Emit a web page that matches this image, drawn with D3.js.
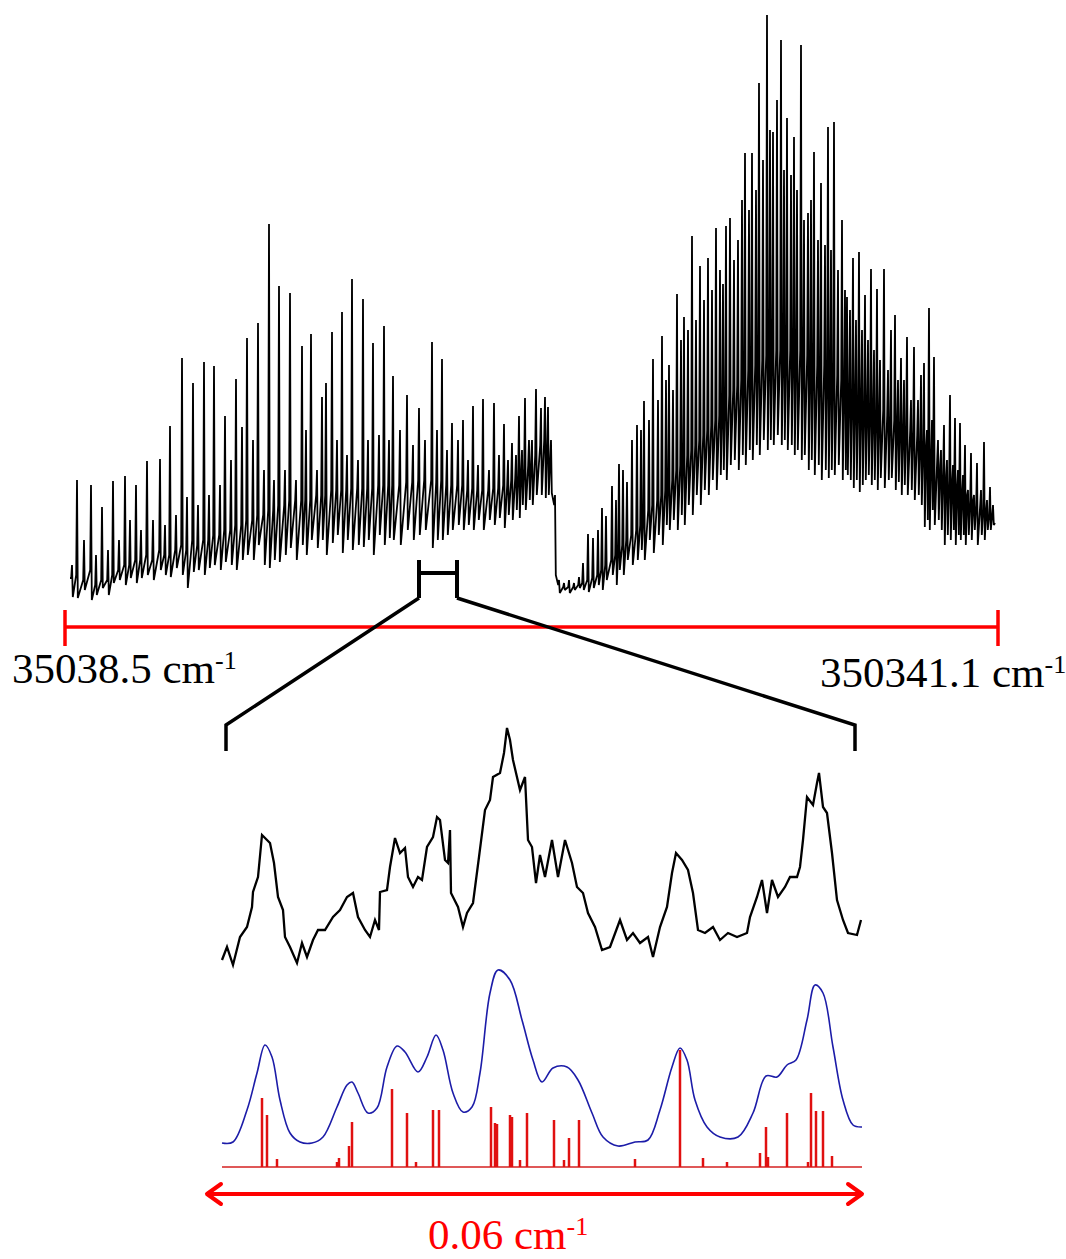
<!DOCTYPE html>
<html>
<head>
<meta charset="utf-8">
<script src="https://cdn.jsdelivr.net/npm/d3@7"></script>
<style>
  body { margin: 0; background: #fff; }
  text { font-family: "Liberation Serif", "Times New Roman", serif; }
</style>
</head>
<body>
<div id="chart"></div>
<script>
// ---- survey spectrum (top), channel along the scan and signal counts ----
// left band: position, peak top, dip after the peak, level before the peak
var leftPos = [7,12,19,26,31,37,43,48,54,60, 65,71,76,82,88,95,100,105,111,117,
  122,128,133,139,144,149,155,160,166,171, 177,182,188,193,199,204,209,214,220,225,
  231,237,241,246,252,257,261,267,272,277, 282,287,293,298,303,308,314,319,324,328,
  335,342,348,354,360,367,372,377,382,387, 393,398,403,408,413,418,424,429,434,439,
  443,447,451,454,457,460,464,467,471,476, 480,483,486,490,494,499,504,509,514];
var leftTop = [40,125,65,120,50,98,55,124,65,129, 85,120,75,144,85,146,80,179,90,247,
  108,222,100,243,110,239,120,189,145,226, 178,267,165,282,135,381,125,319,135,312,
  125,259,175,271,135,208,222,273,165,293, 150,326,145,306,165,262,170,279,165,229,
  175,210,160,197,165,263,175,246,155,182, 165,185,145,199,140,206,135,202,150,181,
  145,162,150,189,155,207,165,165,216,197, 208,198,165,110,25,22,25,22,28];
var leftLow = [8,7,15,5,10,17,10,22,25,20, 27,22,27,30,25,35,30,28,37,30,
  17,33,35,30,37,40,35,43,40,35, 45,50,45,60,40,37,45,43,50,57,
  45,60,50,65,57,65,50,62,70,52, 65,55,60,58,65,50,70,60,67,65,
  60,75,65,70,75,57,65,65,70,75, 80,75,80,75,85,75,85,80,87,77,
  90,85,95,87,100,95,105,100,110,110, 107,110,112,30,12,15,12,15,17];
var leftMid = [27,30,25,35,20,25,25,30,35,40, 40,45,45,50,45,55,50,50,55,60,
  55,65,60,65,65,70,70,75,75,80, 80,85,85,90,90,95,95,100,100,105,
  105,105,105,105,110,110,110,115,115,115, 115,117,117,117,117,117,120,120,120,120,
  120,123,123,125,125,125,123,125,120,120, 120,120,115,117,115,115,115,117,117,120,
  120,125,127,130,135,137,140,143,150,160, 165,160,145,100,20,18,18,18,20];

// right band
var rightPos = [518,523,528,533,537,541,547,551,554,558, 562,567,572,576,579,584,588,593,597,601,
  604,608,612,616,619,623,627,631,635,639, 643,647,651,655,658,661,665,669,673,677,
  680,684,687,691,694,698,702,705,708,712, 716,719,722,726,729,732,736,739,743,746,
  749,753,756,760,763,766,769,773,777,780, 782,785,788,791,794,797,800,803,806,809,
  812,815,819,823,826,830,833,836,839,842, 846,849,853,856,859,862,864,867,869,873,
  876,879,882,885,888,890,893,895,898,900, 903,906,909,912,916,919,922,925,928];
var rightTop = [42,71,67,75,97,89,119,105,141,135, 123,165,180,175,204,185,246,205,269,225,
  240,215,311,265,288,275,369,285,339,305, 347,315,377,335,321,379,387,345,365,405,
  452,395,452,415,522,445,590,475,473,505, 565,435,487,430,468,415,560,385,392,405,
  453,365,422,360,478,355,483,335,385,315, 308,295,347,285,353,275,310,265,336,255,
  316,245,336,235,275,290,225,247,225,268, 205,258,205,230,242,175,297,185,248,165,
  155,180,145,210,140,187,135,182,130,160, 115,152,110,142,115,163,105,118,100];
var rightLow = [15,13,17,20,15,25,30,20,35,30, 45,40,45,55,45,65,52,70,60,80,
  75,85,75,90,80,100,90,110,100,115, 110,125,115,130,135,125,140,145,135,150,
  140,155,145,160,150,165,155,165,160,170, 160,165,155,160,150,155,145,150,135,145,
  130,140,125,135,127,135,130,140,125,135, 130,125,117,125,113,120,125,130,120,125,
  115,127,117,125,127,115,123,110,120,110, 115,105,110,100,78,85,75,95,80,85,
  75,60,70,65,75,60,70,65,70,60, 70,65,75,60,70,65,75,75,80];
var rightMid = [22,25,27,30,35,40,45,50,55,60, 65,70,75,80,85,95,100,105,110,115,
  120,125,135,140,145,150,155,160,165,170, 175,180,185,190,195,205,210,215,220,225,
  230,235,240,240,245,245,250,250,255,255, 255,255,255,255,255,255,255,250,250,245,
  245,240,240,240,235,235,230,230,225,225, 220,220,215,215,210,210,205,205,200,200,
  195,195,195,190,190,185,185,185,180,180, 175,175,170,165,160,160,155,150,150,145,
  140,135,130,125,125,120,120,115,115,110, 110,105,105,100,100,95,95,90,90];
var scanStart = [5, 27];
var scanEnd = [930, 82];

// zoomed window (channels) and range labels
var zoomWindow = [354, 392];
var rangeLabels = ["35038.5 cm", "350341.1 cm"];
var spanLabel = "0.06 cm";

// ---- zoomed region (bottom), sample index along 0.06 cm-1 ----
var expIdx = [0,5,11,18,25,30,31,36,40,45,48,52,56,61,63,68,75,80,85,91,96,103,111,118,125,131,
  136,143,148,153,157,158,165,168,173,178,183,186,191,196,200,205,211,215,218,223,226,228,229,
  236,241,245,251,257,263,268,271,278,282,285,288,291,298,303,306,310,314,318,323,330,336,343,
  350,355,361,366,373,380,388,398,405,411,418,426,431,438,445,450,454,460,466,471,476,483,491,
  498,506,515,525,528,535,540,545,550,556,563,568,575,578,581,585,591,595,597,601,605,610,615,
  621,626,635,639];
var expVal = [8,21,3,31,41,61,76,91,133,128,125,105,71,58,31,21,5,25,11,28,38,38,51,58,71,75,
  51,38,31,48,38,76,78,101,130,115,120,91,81,91,88,121,131,151,148,108,105,138,75,
  61,41,55,65,111,158,168,191,195,215,240,228,208,178,191,128,121,85,113,91,128,91,128,
  105,81,75,55,41,18,21,48,28,35,25,31,11,41,61,95,115,108,98,75,38,35,41,
  28,35,31,35,51,71,88,55,88,71,81,91,91,101,128,171,163,185,195,161,155,115,68,
  48,35,33,48];

var simIdx = [0,11,25,35,43,50,58,68,78,90,101,115,125,130,136,146,155,165,175,183,196,205,214,
  221,231,241,250,258,268,276,288,300,311,320,331,345,356,370,381,396,413,426,438,450,458,465,
  473,485,498,516,531,544,555,565,574,585,593,601,611,621,631,640];
var simVal = [3,4,36,73,101,89,46,13,4,3,9,39,61,64,53,33,38,79,100,94,74,89,111,
  96,53,34,39,73,153,176,166,126,86,64,78,79,66,33,9,0,4,6,36,79,98,86,
  46,19,9,9,33,70,69,81,86,126,161,153,99,46,21,19];

var stickIdx = [40,45,55,115,117,127,130,170,185,194,211,217,269,273,275,288,290,298,305,
  332,342,347,357,413,458,481,505,538,544,546,565,586,589,594,601,610];
var stickVal = [69,52,8,5,9,21,45,78,54,5,57,57,60,44,43,52,50,7,54,
  47,7,29,47,8,117,9,5,14,40,10,54,5,74,56,56,11];

// ---------------------------------------------------------------
var W = 1066, H = 1259;
var svg = d3.select("#chart").append("svg")
    .attr("width", W).attr("height", H);

var x = d3.scaleLinear().domain([0, 933]).range([65, 998]);
var y = d3.scaleLinear().domain([0, 590]).range([605, 15]);

var lowX = d3.scaleLinear().domain([0, 640]).range([222, 862]);
var expY = d3.scaleLinear().domain([0, 240]).range([968, 728]);
var simY = d3.scaleLinear().domain([0, 180]).range([1146, 966]);
var stickY = d3.scaleLinear().domain([0, 120]).range([1167, 1047]);

// build the survey trace: level -> peak -> dip for every line
var scan = [scanStart];
function addLines(pos, top, low, mid) {
  var n = Math.min(pos.length, top.length, low.length, mid.length);
  for (var i = 0; i < n; i++) {
    scan.push([pos[i] - 0.8, mid[i]], [pos[i], top[i]], [pos[i] + 0.8, low[i]]);
  }
}
addLines(leftPos, leftTop, leftLow, leftMid);
addLines(rightPos, rightTop, rightLow, rightMid);
scan.push(scanEnd);

var line = d3.line()
    .x(function(d) { return x(d[0]); })
    .y(function(d) { return y(d[1]); });

svg.append("path")
    .datum(scan)
    .attr("d", line)
    .attr("fill", "none")
    .attr("stroke", "#000")
    .attr("stroke-width", 1.8)
    .attr("stroke-linejoin", "bevel");

// red range bar
var barY = 627;
var bar = svg.append("g").attr("stroke", "#ff0000").attr("stroke-width", 3.5);
bar.append("line").attr("x1", x(0)).attr("x2", x(933)).attr("y1", barY).attr("y2", barY);
bar.append("line").attr("x1", x(0)).attr("x2", x(0)).attr("y1", barY - 17).attr("y2", barY + 19);
bar.append("line").attr("x1", x(933)).attr("x2", x(933)).attr("y1", barY - 17).attr("y2", barY + 19);

function label(xp, yp, txt, color) {
  var t = svg.append("text")
      .attr("x", xp).attr("y", yp)
      .attr("font-size", 43)
      .attr("fill", color);
  t.append("tspan").text(txt);
  t.append("tspan").attr("font-size", 26).attr("dy", -14).text("-1");
  return t;
}
label(12, 683, rangeLabels[0], "#000");
label(820, 687, rangeLabels[1], "#000");

// zoom bracket on the survey and lines to the zoomed panel
var zl = x(zoomWindow[0]), zr = x(zoomWindow[1]);
var br = svg.append("g").attr("stroke", "#000").attr("fill", "none")
    .attr("stroke-width", 4).attr("stroke-linecap", "butt");
br.append("line").attr("x1", zl).attr("x2", zl).attr("y1", 560).attr("y2", 598);
br.append("line").attr("x1", zr).attr("x2", zr).attr("y1", 560).attr("y2", 598);
br.append("line").attr("x1", zl).attr("x2", zr).attr("y1", 573).attr("y2", 573);
br.append("path").attr("stroke-width", 3.5)
    .attr("d", "M" + zl + ",598L" + lowX(4) + ",725L" + lowX(4) + ",751");
br.append("path").attr("stroke-width", 3.5)
    .attr("d", "M" + zr + ",598L" + lowX(633) + ",725L" + lowX(633) + ",751");

// experimental zoomed trace
var expLine = d3.line()
    .x(function(d, i) { return lowX(expIdx[i]); })
    .y(function(d) { return expY(d); });
svg.append("path")
    .attr("d", expLine(expVal))
    .attr("fill", "none")
    .attr("stroke", "#000")
    .attr("stroke-width", 2.3);

// simulated envelope
var simLine = d3.line()
    .curve(d3.curveCatmullRom.alpha(0.5))
    .x(function(d, i) { return lowX(simIdx[i]); })
    .y(function(d) { return simY(d); });
svg.append("path")
    .attr("d", simLine(simVal))
    .attr("fill", "none")
    .attr("stroke", "#1c1ca8")
    .attr("stroke-width", 1.6);

// stick spectrum
svg.append("line")
    .attr("x1", lowX(0)).attr("x2", lowX(640))
    .attr("y1", stickY(0)).attr("y2", stickY(0))
    .attr("stroke", "#d42020").attr("stroke-width", 1.5);
svg.append("g").selectAll("line")
    .data(stickIdx)
    .enter().append("line")
    .attr("x1", function(d) { return lowX(d); })
    .attr("x2", function(d) { return lowX(d); })
    .attr("y1", stickY(0))
    .attr("y2", function(d, i) { return stickY(stickVal[i]); })
    .attr("stroke", "#e01010")
    .attr("stroke-width", 2.5);

// span arrow
var ay = 1194, ax0 = lowX(0) - 15, ax1 = lowX(640);
var ar = svg.append("g").attr("stroke", "#ff0000").attr("stroke-width", 4)
    .attr("fill", "none").attr("stroke-linecap", "round").attr("stroke-linejoin", "round");
ar.append("line").attr("x1", ax0 + 2).attr("x2", ax1 - 2).attr("y1", ay).attr("y2", ay);
ar.append("path").attr("d", "M" + (ax0 + 14) + "," + (ay - 10) + "L" + ax0 + "," + ay + "L" + (ax0 + 14) + "," + (ay + 10));
ar.append("path").attr("d", "M" + (ax1 - 14) + "," + (ay - 10) + "L" + ax1 + "," + ay + "L" + (ax1 - 14) + "," + (ay + 10));

label(428, 1249, spanLabel, "#ff0000");
</script>
</body>
</html>
